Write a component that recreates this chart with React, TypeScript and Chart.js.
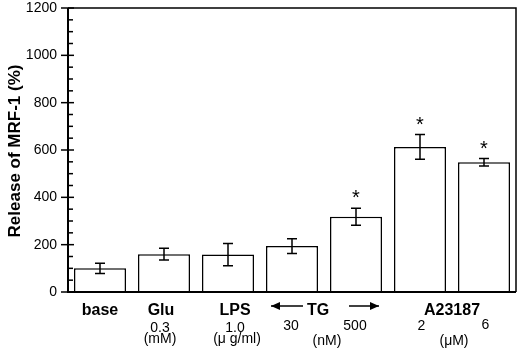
import React, { useEffect, useRef } from "react";
import { Chart, registerables } from "chart.js";

Chart.register(...registerables);

const categories = ["base", "Glu 0.3", "LPS 1.0", "TG 30", "TG 500", "A23187 2", "A23187 6"];
const releaseMean = [100, 160, 158, 194, 318, 613, 548];
const releaseErr = [22, 25, 47, 31, 36, 52, 16];
const significant = [false, false, false, false, true, true, true];
const doseLabels = ["", "0.3", "1.0", "30", "500", "2", "6"];
const groupNames = ["base", "Glu", "LPS", "TG", "A23187"];
const groupFirst = [0, 1, 2, 3, 5];
const groupLast = [0, 1, 2, 4, 6];
const unitNames = ["", "(mM)", "(\u03bc g/ml)", "(nM)", "(\u03bcM)"];
const yMin = 0;
const yMax = 1200;
const yStep = 200;
const yMinorStep = 50;

const FONT = '"Liberation Sans", Arial, Helvetica, sans-serif';

const overlay = {
  id: "overlay",
  afterDatasetsDraw(chart: any) {
    const ctx = chart.ctx;
    const area = chart.chartArea;
    const xs = chart.scales.x;
    const ys = chart.scales.y;
    ctx.save();
    ctx.strokeStyle = "#000";
    ctx.fillStyle = "#000";

    // frame
    ctx.lineWidth = 1.5;
    ctx.beginPath();
    ctx.moveTo(area.left, area.top);
    ctx.lineTo(area.right, area.top);
    ctx.lineTo(area.right, area.bottom);
    ctx.stroke();
    ctx.lineWidth = 2;
    ctx.beginPath();
    ctx.moveTo(area.left, area.top);
    ctx.lineTo(area.left, area.bottom);
    ctx.lineTo(area.right, area.bottom);
    ctx.stroke();

    // y ticks
    ctx.lineWidth = 1.5;
    for (let v = yMin; v <= yMax; v += yMinorStep) {
      const y = ys.getPixelForValue(v);
      ctx.beginPath();
      if (v % yStep === 0) {
        ctx.moveTo(area.left - 7, y);
        ctx.lineTo(area.left + 6, y);
      } else {
        ctx.moveTo(area.left, y);
        ctx.lineTo(area.left + 5, y);
      }
      ctx.stroke();
    }

    // error bars and asterisks
    const meta = chart.getDatasetMeta(0);
    ctx.lineWidth = 1.5;
    meta.data.forEach((bar: any, i: number) => {
      const x = bar.x;
      const yTop = ys.getPixelForValue(releaseMean[i] + releaseErr[i]);
      const yBot = ys.getPixelForValue(releaseMean[i] - releaseErr[i]);
      const cap = 5;
      ctx.beginPath();
      ctx.moveTo(x, yTop);
      ctx.lineTo(x, yBot);
      ctx.moveTo(x - cap, yTop);
      ctx.lineTo(x + cap, yTop);
      ctx.moveTo(x - cap, yBot);
      ctx.lineTo(x + cap, yBot);
      ctx.stroke();
      if (significant[i]) {
        ctx.font = `20px ${FONT}`;
        ctx.textAlign = "center";
        ctx.textBaseline = "alphabetic";
        ctx.fillText("*", x, yTop - 4);
      }
    });

    // group labels
    const nudge = [0, -3, 7, -6, 0];
    ctx.font = `bold 16px ${FONT}`;
    ctx.textAlign = "center";
    ctx.textBaseline = "alphabetic";
    groupNames.forEach((name, g) => {
      const cx = (xs.getPixelForValue(groupFirst[g]) + xs.getPixelForValue(groupLast[g])) / 2 + nudge[g];
      ctx.fillText(name, cx, 314.5);
    });

    // TG arrows
    const tgCenter = (xs.getPixelForValue(3) + xs.getPixelForValue(4)) / 2;
    const ay = 306;
    ctx.lineWidth = 1.5;
    const arrow = (x1: number, x2: number) => {
      const dir = Math.sign(x2 - x1);
      ctx.beginPath();
      ctx.moveTo(x1, ay);
      ctx.lineTo(x2, ay);
      ctx.stroke();
      ctx.beginPath();
      ctx.moveTo(x2, ay);
      ctx.lineTo(x2 - dir * 9, ay - 4);
      ctx.lineTo(x2 - dir * 9, ay + 4);
      ctx.closePath();
      ctx.fill();
    };
    arrow(tgCenter - 21, tgCenter - 53);
    arrow(tgCenter + 25, tgCenter + 55);

    // dose labels
    const doseNudge = [0, -4, 7, -1, -1, 1.5, 1.5];
    ctx.font = `14px ${FONT}`;
    doseLabels.forEach((d, i) => {
      if (!d) return;
      const base = i <= 2 ? 331.5 : i === 6 ? 328.5 : 330;
      ctx.fillText(d, xs.getPixelForValue(i) + doseNudge[i], base);
    });

    // unit labels
    const unitNudge = [0, -4, 9, 3, 2];
    unitNames.forEach((u, g) => {
      if (!u) return;
      const cx = (xs.getPixelForValue(groupFirst[g]) + xs.getPixelForValue(groupLast[g])) / 2 + unitNudge[g];
      const base = g <= 2 ? 342.5 : 345;
      ctx.fillText(u, cx, base);
    });

    // y title
    ctx.save();
    ctx.translate(15, (area.top + area.bottom) / 2 + 1);
    ctx.rotate(-Math.PI / 2);
    ctx.font = `bold 17px ${FONT}`;
    ctx.textAlign = "center";
    ctx.textBaseline = "middle";
    ctx.fillText("Release of MRF-1 (%)", 0, 0);
    ctx.restore();

    ctx.restore();
  },
};

export default function App() {
  const ref = useRef<HTMLCanvasElement | null>(null);

  useEffect(() => {
    if (!ref.current) return;
    const chart = new Chart(ref.current, {
      type: "bar",
      data: {
        labels: categories,
        datasets: [
          {
            data: releaseMean,
            backgroundColor: "#fff",
            borderColor: "#000",
            borderWidth: 1.5,
            categoryPercentage: 1,
            barPercentage: 0.8125,
          },
        ],
      },
      options: {
        responsive: false,
        animation: false,
        events: [],
        layout: { padding: { top: 8, right: 3, bottom: 58, left: 0 } },
        plugins: { legend: { display: false }, tooltip: { enabled: false }, title: { display: false } },
        scales: {
          x: { display: false },
          y: {
            min: yMin,
            max: yMax,
            grid: { display: false, drawTicks: false },
            border: { display: false },
            ticks: {
              stepSize: yStep,
              color: "#000",
              font: { family: FONT, size: 14 },
              padding: 11,
              callback: (v: any) => String(v),
            },
            afterFit: (s: any) => {
              s.width = 68;
              s.paddingTop = 0;
              s.paddingBottom = 0;
            },
          },
        },
      },
      plugins: [overlay],
    });
    return () => chart.destroy();
  }, []);

  return (
    <div style={{ position: "fixed", left: 0, top: 0, width: 519, height: 350, background: "#fff" }}>
      <canvas ref={ref} width={519} height={350} style={{ width: 519, height: 350, display: "block" }} />
    </div>
  );
}
